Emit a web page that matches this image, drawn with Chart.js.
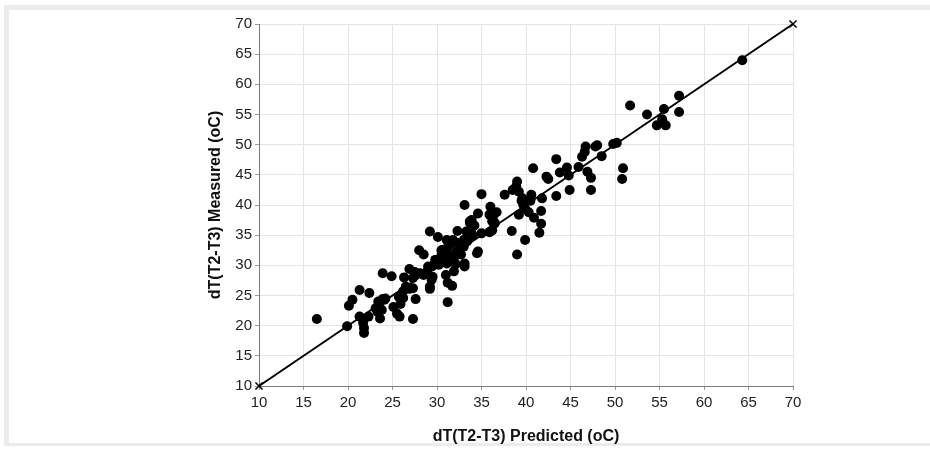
<!DOCTYPE html>
<html>
<head>
<meta charset="utf-8">
<script src="https://cdn.jsdelivr.net/npm/chart.js@4.4.1/dist/chart.umd.min.js"></script>
<style>
  html, body { margin: 0; padding: 0; background: #fff; }
  #frame {
    position: absolute; left: 4px; top: 5px; width: 926px; height: 441px;
    border-top: 5px solid #ececec; border-left: 5px solid #ececec; border-bottom: 3px solid #ececec;
    box-sizing: border-box;
  }
  #wrap { position: absolute; left: 0; top: 0; width: 930px; height: 449px; }
</style>
</head>
<body>
<div id="frame"></div>
<div id="wrap"><canvas id="chart" width="930" height="449"></canvas></div>
<script>
// predicted vs measured dT(T2-T3)
const predicted = [
  64.3, 57.2, 57.2, 51.7, 53.6, 55.5, 55.3, 54.7, 55.7,
  49.8, 50.2, 48.0, 47.8, 46.7, 46.6, 46.3, 48.5, 45.9, 43.4, 44.6, 43.8, 44.8, 40.8, 42.3, 42.5,
  46.9, 47.3, 50.9, 50.8, 47.3, 44.9, 43.4,
  39.0, 38.9, 38.5, 39.2, 37.6, 39.6, 40.6, 41.8, 35.0,
  39.5, 40.5, 39.7, 39.9, 40.3, 40.9, 41.7, 41.7, 41.5, 39.2, 38.4, 39.9, 39.0,
  33.1, 36.0, 34.6, 36.7, 35.9, 36.3, 36.5, 36.2, 36.4, 33.7, 34.2, 33.9, 35.9, 36.2, 36.0, 35.0,
  34.0, 33.9, 33.3, 33.4, 33.0, 32.5, 32.3, 32.7, 34.5, 34.6, 33.1, 31.9, 31.9, 32.1, 31.3, 31.2,
  30.7, 30.1, 29.2, 31.0, 31.0, 30.5, 30.2, 29.9, 29.5, 29.0, 28.5, 28.0, 28.9, 28.1, 27.5, 26.9,
  31.0, 31.2, 31.7, 29.4, 29.2, 29.2, 31.2, 27.3, 26.3, 26.5, 26.9, 26.2, 25.7, 26.2, 27.6, 25.9,
  24.9, 23.9, 24.1, 23.5, 23.1, 23.3, 23.6, 25.1, 25.5, 25.8, 27.3, 22.4, 21.3, 20.5, 20.1, 21.3,
  21.7, 22.3, 21.8, 21.8, 19.9, 16.5, 23.4, 23.9, 24.2, 23.8, 27.3, 28.5, 31.1, 31.5, 29.8, 29.4,
  29.5, 30.5, 30.5, 29.9, 31.1, 31.8, 32.4, 32.2, 33.0, 33.0, 33.7, 33.1, 31.8, 31.3, 31.5, 30.8
];
const measured = [
  64.0, 58.1, 55.4, 56.5, 55.0, 55.9, 54.2, 53.2, 53.2,
  50.1, 50.3, 49.9, 49.7, 49.7, 48.8, 48.0, 48.1, 46.3, 47.6, 46.2, 45.4, 44.9, 46.1, 44.7, 44.3,
  45.5, 44.5, 46.1, 44.3, 42.5, 42.5, 41.5,
  43.9, 43.1, 42.5, 42.2, 41.7, 41.1, 41.7, 41.1, 41.8,
  40.7, 40.7, 40.0, 39.4, 38.8, 37.9, 39.0, 36.9, 35.4, 38.4, 35.7, 34.2, 31.8,
  40.0, 39.7, 38.6, 38.8, 38.4, 38.1, 37.0, 37.3, 36.9, 37.3, 36.6, 37.5, 35.5, 35.8, 35.6, 35.3,
  34.9, 35.3, 35.6, 34.0, 33.4, 32.6, 35.7, 31.8, 32.0, 32.3, 29.8, 30.8, 29.0, 30.2, 33.9, 32.9,
  32.6, 34.7, 35.6, 32.2, 31.2, 30.7, 30.1, 30.9, 29.9, 29.8, 31.8, 32.5, 29.0, 28.7, 28.9, 29.4,
  28.4, 27.1, 26.6, 27.6, 26.5, 26.1, 23.9, 27.9, 28.0, 26.5, 26.1, 25.7, 24.8, 24.6, 24.4, 23.6,
  28.2, 28.7, 24.3, 23.7, 22.9, 22.3, 21.2, 23.1, 22.0, 21.5, 21.1, 25.4, 25.9, 24.3, 23.3, 21.5,
  20.5, 21.5, 19.6, 18.8, 19.9, 21.1, 24.0, 24.4, 24.5, 22.6, 26.2, 28.4, 30.3, 30.9, 30.9, 29.8,
  28.1, 32.5, 31.7, 30.3, 34.2, 34.2, 33.7, 32.3, 33.1, 34.2, 37.0, 30.3, 31.2, 31.7, 33.5, 31.8
];
// 1:1 reference line
const fitX = [10, 70];
const fitY = [10, 70];
const axisMin = 10;
const axisMax = 70;
const tickStep = 5;

const font = { family: '"Liberation Sans", Arial, sans-serif', size: 15 };
const titleFont = { family: '"Liberation Sans", Arial, sans-serif', size: 16, weight: 'bold' };

new Chart(document.getElementById('chart'), {
  type: 'scatter',
  data: {
    datasets: [
      {
        type: 'line',
        data: fitX.map((x, i) => ({ x, y: fitY[i] })),
        borderColor: '#000',
        borderWidth: 2,
        pointStyle: 'crossRot',
        pointRadius: 5,
        pointBorderWidth: 1.5,
        pointBorderColor: '#000',
        clip: false
      },
      {
        data: predicted.map((x, i) => ({ x, y: measured[i] })),
        backgroundColor: '#000',
        borderWidth: 0,
        pointRadius: 5
      }
    ]
  },
  options: {
    responsive: false,
    animation: false,
    layout: { padding: { left: 200, right: 137, top: 24, bottom: 0 } },
    plugins: { legend: { display: false }, tooltip: { enabled: false } },
    scales: {
      x: {
        type: 'linear', min: axisMin, max: axisMax,
        ticks: { stepSize: tickStep, color: '#222', font: font, padding: 4 },
        grid: { color: '#e4e4e4', tickLength: 4, tickColor: '#999' },
        border: { color: '#7a7a7a', width: 1 },
        title: { display: true, text: 'dT(T2-T3) Predicted (oC)', color: '#111', font: titleFont, padding: { top: 0, bottom: 3 } },
        afterFit: s => { s.height = 63; }
      },
      y: {
        type: 'linear', min: axisMin, max: axisMax,
        ticks: { stepSize: tickStep, color: '#222', font: font, padding: 3 },
        grid: { color: '#e4e4e4', tickLength: 4, tickColor: '#999' },
        border: { color: '#7a7a7a', width: 1 },
        title: { display: true, text: 'dT(T2-T3) Measured (oC)', color: '#111', font: titleFont, padding: { top: 6, bottom: 0 } },
        afterFit: s => { s.width = 59; }
      }
    }
  }
});
</script>
</body>
</html>
